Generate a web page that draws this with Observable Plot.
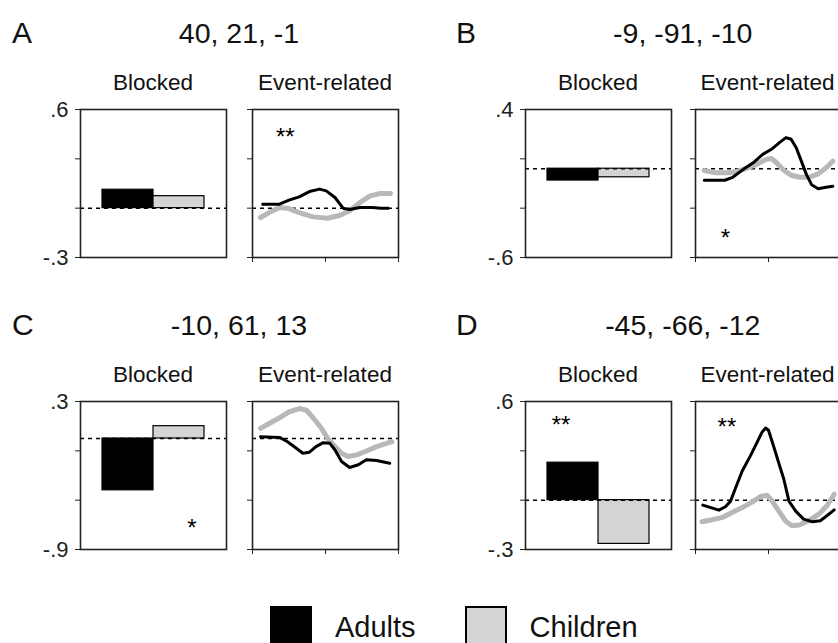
<!DOCTYPE html>
<html><head><meta charset="utf-8">
<script src="https://cdn.jsdelivr.net/npm/d3@7"></script>
<script src="https://cdn.jsdelivr.net/npm/@observablehq/plot@0.6"></script>
<style>
html,body{margin:0;padding:0;background:#fff;overflow:hidden;}
#fig{position:relative;width:838px;height:643px;overflow:hidden;font-family:"Liberation Sans",Arial,Helvetica,sans-serif;color:#111;}
#legend{position:absolute;left:271px;top:607px;}
.lg-swatches{margin:0 !important;}
.lg-swatch{margin-right:50px !important;}
.lg-swatch > svg{margin-right:24px !important;}
.lg-swatch rect{stroke:#000;stroke-width:2px;}
</style></head><body><div id="fig"></div>
<script>
// ---------- data ----------
const groups = ["Adults", "Children"];
const groupColors = ["#000000", "#d4d4d4"];
const panelLetters = ["A", "B", "C", "D"];
const panelCoords = ["40, 21, -1", "-9, -91, -10", "-10, 61, 13", "-45, -66, -12"];
const subTitles = ["Blocked", "Event-related"];
const timeTicks = [0, 10, 20];

const aTicks = [0.6, 0.3, 0, -0.3];
const aTickLabels = [".6", "", "", "-.3"];
const bTicks = [0.4, 0.0667, -0.2667, -0.6];
const bTickLabels = [".4", "", "", "-.6"];
const cTicks = [0.3, -0.1, -0.5, -0.9];
const cTickLabels = [".3", "", "", "-.9"];
const dTicks = [0.6, 0.3, 0, -0.3];
const dTickLabels = [".6", "", "", "-.3"];

// blocked: [Adults, Children]
const aBlocked = [0.112, 0.073];
const bBlocked = [-0.08, -0.058];
const cBlocked = [-0.42, 0.10];
const dBlocked = [0.228, -0.266];

// event-related time courses
const aAdultT = [1.4, 3.7, 5.0, 6.4, 7.8, 9.2, 10.1, 11.3, 12.4, 13.3, 14.7, 16.5, 17.5, 18.6];
const aAdultV = [0.024, 0.024, 0.049, 0.069, 0.101, 0.116, 0.105, 0.065, 0.0, -0.008, 0.004, 0.004, 0.0, 0.0];
const aChildT = [1.1, 2.3, 3.7, 4.8, 6.4, 8.3, 10.3, 12.0, 13.3, 14.7, 16.1, 17.5, 18.9];
const aChildV = [-0.057, -0.027, 0.004, 0.0, -0.027, -0.053, -0.061, -0.043, -0.016, 0.034, 0.075, 0.089, 0.089];

const bAdultT = [1.2, 4.0, 5.1, 6.5, 7.9, 9.2, 10.4, 11.5, 12.4, 13.1, 13.8, 14.5, 15.2, 15.9, 16.8, 17.9, 18.8];
const bAdultV = [-0.078, -0.078, -0.058, -0.006, 0.040, 0.097, 0.131, 0.176, 0.210, 0.199, 0.142, 0.051, -0.040, -0.108, -0.135, -0.126, -0.119];
const bChildT = [1.2, 2.8, 4.7, 6.5, 8.3, 9.7, 10.4, 11.1, 12.0, 13.1, 14.3, 15.6, 16.8, 17.9, 18.8];
const bChildV = [-0.012, -0.028, -0.028, -0.006, 0.028, 0.063, 0.069, 0.040, -0.006, -0.044, -0.058, -0.058, -0.035, 0.006, 0.051];

const cAdultT = [1.1, 3.7, 4.8, 6.0, 6.9, 7.8, 8.7, 9.7, 10.6, 11.3, 12.2, 13.3, 14.5, 15.6, 17.0, 18.8];
const cAdultV = [0.015, 0.009, -0.026, -0.079, -0.119, -0.111, -0.066, -0.034, -0.039, -0.093, -0.187, -0.235, -0.213, -0.173, -0.178, -0.2];
const cChildT = [1.1, 2.3, 3.7, 5.0, 6.4, 7.4, 8.3, 9.4, 10.3, 11.3, 12.2, 13.1, 14.3, 15.6, 17.0, 19.1];
const cChildV = [0.082, 0.122, 0.168, 0.216, 0.243, 0.229, 0.168, 0.087, 0.001, -0.066, -0.119, -0.146, -0.133, -0.101, -0.066, -0.026];

const dAdultT = [1.0, 2.1, 3.2, 4.1, 4.8, 5.5, 6.4, 7.5, 8.4, 9.1, 9.6, 10.0, 10.7, 11.4, 12.1, 12.8, 13.7, 14.8, 16.0, 17.1, 18.0, 19.0];
const dAdultV = [-0.030, -0.045, -0.061, -0.040, -0.006, 0.076, 0.177, 0.268, 0.348, 0.412, 0.439, 0.425, 0.328, 0.227, 0.127, -0.006, -0.065, -0.115, -0.131, -0.125, -0.095, -0.059];
const dChildT = [0.9, 2.3, 3.7, 5.0, 6.4, 7.8, 8.9, 9.8, 10.5, 11.4, 12.3, 13.2, 14.2, 15.5, 16.9, 18.0, 19.0];
const dChildV = [-0.131, -0.119, -0.105, -0.075, -0.045, -0.010, 0.022, 0.030, -0.006, -0.065, -0.125, -0.155, -0.151, -0.125, -0.085, -0.034, 0.036];

// significance markers: [panel, text, position, value]
const starsEvent = [["A", "**", 4.5, 0.47], ["B", "*", 4.1, -0.43], ["D", "**", 4.3, 0.48]];
const starsBlocked = [["C", "*", "Children", -0.68, 13], ["D", "**", "Adults", 0.49, -12]];

// ---------- layout ----------
const panels = [
  {ticks: aTicks, labels: aTickLabels, blocked: aBlocked, adT: aAdultT, adV: aAdultV, chT: aChildT, chV: aChildV},
  {ticks: bTicks, labels: bTickLabels, blocked: bBlocked, adT: bAdultT, adV: bAdultV, chT: bChildT, chV: bChildV},
  {ticks: cTicks, labels: cTickLabels, blocked: cBlocked, adT: cAdultT, adV: cAdultV, chT: cChildT, chV: cChildV},
  {ticks: dTicks, labels: dTickLabels, blocked: dBlocked, adT: dAdultT, adV: dAdultV, chT: dChildT, chV: dChildV}
];
const font = '"Liberation Sans", Arial, Helvetica, sans-serif';
const BOX_W = 146, BOX_H = 148;
const blockedLeft = [80, 525], eventLeft = [252, 694.5], boxTop = [109, 401];
const letterX = [12, 456], titleBase = [42.5, 334.5], headerBase = [89.5, 381.5];
const fig = document.getElementById("fig");
const baseStyle = {fontFamily: font, fontSize: "22px", color: "#222", background: "transparent", overflow: "visible"};
const dashed = {stroke: "#000", strokeWidth: 1.5, strokeDasharray: "4,4"};

function place(el, left, top) {
  el.style.position = "absolute";
  el.style.left = left + "px";
  el.style.top = top + "px";
  fig.appendChild(el);
}

panels.forEach((p, i) => {
  const col = i % 2, row = Math.floor(i / 2), letter = panelLetters[i];
  const tickMap = new Map(p.ticks.map((t, k) => [t, p.labels[k]]));
  const yBase = {domain: [p.ticks[3], p.ticks[0]], ticks: p.ticks, tickSize: 5, tickPadding: 7, label: null};
  const blockedData = groups.map((g, k) => ({group: g, value: p.blocked[k]}));
  const bStars = starsBlocked.filter(s => s[0] === letter).map(s => ({text: s[1], group: s[2], v: s[3], dx: s[4]}));

  const blocked = Plot.plot({
    width: 80 + BOX_W + 6, height: BOX_H + 20,
    marginLeft: 80, marginRight: 6, marginTop: 10, marginBottom: 10,
    style: baseStyle,
    x: {domain: groups, paddingInner: 0, paddingOuter: 0.43, axis: null},
    y: {...yBase, tickFormat: d => tickMap.get(d) ?? ""},
    color: {domain: groups, range: groupColors},
    marks: [
      Plot.barY(blockedData, {x: "group", y: "value", fill: "group", stroke: "#000", strokeWidth: 1.2}),
      Plot.ruleY([0], dashed),
      ...bStars.map(s => Plot.text([s], {x: "group", y: "v", text: "text", dx: s.dx, dy: 6, fontSize: 24, fill: "#000"})),
      Plot.frame({stroke: "#222", strokeWidth: 1.6})
    ]
  });
  place(blocked, blockedLeft[col] - 80, boxTop[row] - 10);

  const adult = p.adT.map((t, k) => ({t, v: p.adV[k]}));
  const child = p.chT.map((t, k) => ({t, v: p.chV[k]}));
  const eStars = starsEvent.filter(s => s[0] === letter).map(s => ({text: s[1], t: s[2], v: s[3]}));
  const evt = Plot.plot({
    width: 10 + BOX_W + 6, height: BOX_H + 20,
    marginLeft: 10, marginRight: 6, marginTop: 10, marginBottom: 10,
    style: baseStyle,
    x: {domain: [0, 20], ticks: timeTicks, tickFormat: () => "", tickSize: 5, label: null},
    y: {...yBase, tickFormat: () => ""},
    marks: [
      Plot.ruleY([0], dashed),
      Plot.line(child, {x: "t", y: "v", stroke: "#b8b8b8", strokeWidth: 5, strokeLinejoin: "round"}),
      Plot.line(adult, {x: "t", y: "v", stroke: "#000", strokeWidth: 3, strokeLinejoin: "round"}),
      Plot.text(eStars, {x: "t", y: "v", text: "text", dy: 6, fontSize: 24, fill: "#000"}),
      Plot.frame({stroke: "#222", strokeWidth: 1.6})
    ]
  });
  place(evt, eventLeft[col] - 10, boxTop[row] - 10);
});

// ---------- titles ----------
const overlay = d3.create("svg")
  .attr("width", 838).attr("height", 643)
  .style("position", "absolute").style("left", "0px").style("top", "0px")
  .style("font-family", font).style("pointer-events", "none");
panels.forEach((p, i) => {
  const col = i % 2, row = Math.floor(i / 2);
  overlay.append("text").attr("x", letterX[col]).attr("y", titleBase[row])
    .attr("font-size", 30).attr("fill", "#111").text(panelLetters[i]);
  overlay.append("text").attr("x", (blockedLeft[col] + eventLeft[col] + BOX_W) / 2).attr("y", titleBase[row])
    .attr("font-size", 28.5).attr("text-anchor", "middle").attr("fill", "#111").text(panelCoords[i]);
  overlay.append("text").attr("x", blockedLeft[col] + BOX_W / 2).attr("y", headerBase[row])
    .attr("font-size", 22.5).attr("text-anchor", "middle").attr("fill", "#111").text(subTitles[0]);
  overlay.append("text").attr("x", eventLeft[col] + BOX_W / 2).attr("y", headerBase[row])
    .attr("font-size", 22.5).attr("text-anchor", "middle").attr("fill", "#111").text(subTitles[1]);
});
fig.appendChild(overlay.node());

// ---------- legend ----------
const legend = Plot.legend({
  color: {type: "ordinal", domain: groups, range: groupColors},
  legend: "swatches", swatchSize: 40, className: "lg",
  style: {fontSize: "29px", fontFamily: font, color: "#111"}
});
const legendWrap = document.createElement("div");
legendWrap.id = "legend";
legendWrap.appendChild(legend);
fig.appendChild(legendWrap);
</script></body></html>
